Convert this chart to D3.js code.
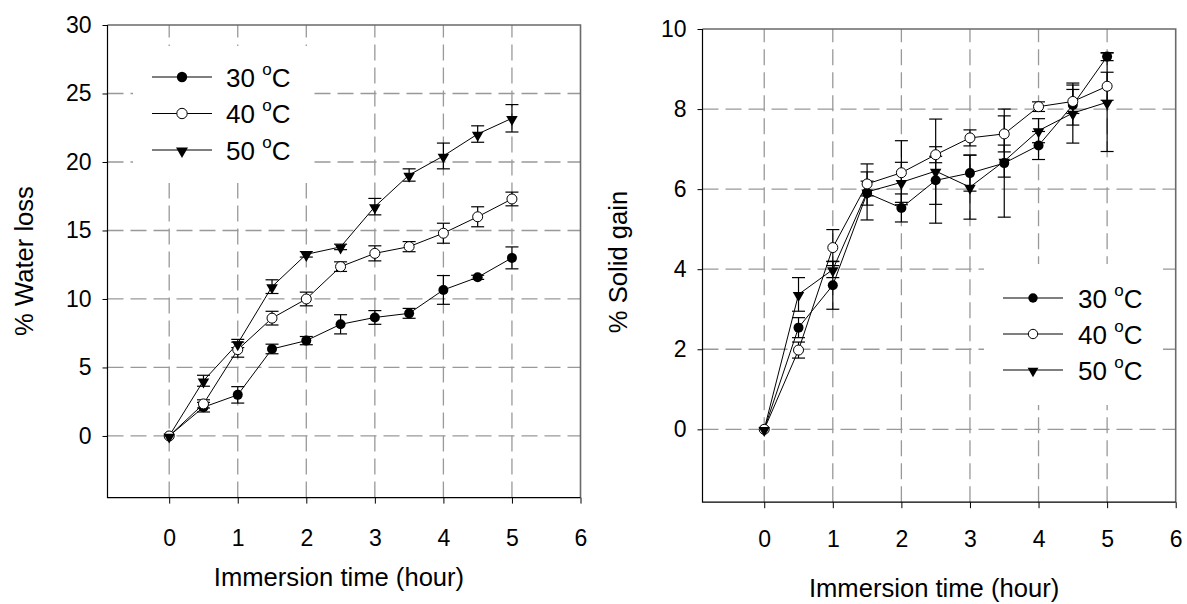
<!DOCTYPE html>
<html>
<head>
<meta charset="utf-8">
<script src="https://cdn.jsdelivr.net/npm/d3@7"></script>
<style>
  html, body { margin: 0; padding: 0; background: #fff; }
  svg { display: block; font-family: "Liberation Sans", Arial, sans-serif; }
</style>
</head>
<body>
<svg id="chart" width="1187" height="604"></svg>
<script>
// ---------- data ----------
const times = [0, 0.5, 1, 1.5, 2, 2.5, 3, 3.5, 4, 4.5, 5];
const seriesNames = ["30", "40", "50"];

// Left panel: % Water loss
const water30 = [0, 2.1, 3.0, 6.35, 6.96, 8.15, 8.65, 8.95, 10.66, 11.58, 13.0];
const water30Err = [0, 0.35, 0.6, 0.35, 0.3, 0.7, 0.5, 0.36, 1.05, 0.15, 0.8];
const water40 = [0, 2.34, 6.3, 8.6, 10.0, 12.36, 13.33, 13.82, 14.8, 16.0, 17.3];
const water40Err = [0, 0.3, 0.55, 0.5, 0.5, 0.35, 0.55, 0.37, 0.73, 0.73, 0.5];
const water50 = [0, 4.03, 6.75, 10.9, 13.26, 13.8, 16.74, 19.05, 20.44, 22.04, 23.19];
const water50Err = [0, 0.4, 0.3, 0.5, 0.2, 0.2, 0.6, 0.45, 0.94, 0.6, 1.0];

// Right panel: % Solid gain
const solid30 = [0, 2.54, 3.6, 5.9, 5.53, 6.22, 6.4, 6.65, 7.09, 8.1, 9.31];
const solid30Err = [0, 0.25, 0.6, 0.3, 0.35, 0.6, 0.45, 1.35, 0.35, 0.5, 0.1];
const solid40 = [0, 1.98, 4.54, 6.13, 6.41, 6.86, 7.28, 7.38, 8.06, 8.19, 8.57];
const solid40Err = [0, 0.2, 0.45, 0.3, 0.8, 0.2, 0.2, 0.45, 0.12, 0.3, 0.35];
const solid50 = [0, 3.37, 3.99, 5.93, 6.17, 6.45, 6.05, 6.7, 7.46, 7.9, 8.17];
const solid50Err = [0, 0.42, 0.2, 0.7, 0.5, 1.3, 0.8, 0.4, 0.3, 0.75, 1.23];

const xTicks = [0, 1, 2, 3, 4, 5, 6];
const waterTicks = [0, 5, 10, 15, 20, 25, 30];
const solidTicks = [0, 2, 4, 6, 8, 10];

// ---------- drawing ----------
const svg = d3.select("#chart");
const FONT_TICK = 23, FONT_TITLE = 25.6, FONT_LEG = 26;

function panel(cfg) {
  const g = svg.append("g");
  const x = d3.scaleLinear().domain([-0.9, 6]).range([cfg.left, cfg.right]);
  const y = d3.scaleLinear().domain(cfg.yDomain).range([cfg.bottom, cfg.top]);

  // grid
  const grid = g.append("g").attr("stroke", "#999").attr("stroke-width", 1.3)
    .attr("stroke-dasharray", "16,7").attr("fill", "none");
  grid.selectAll("line.h").data(cfg.yTicks.slice(0, -1)).join("line")
    .attr("x1", cfg.left).attr("x2", cfg.right)
    .attr("y1", d => y(d)).attr("y2", d => y(d));
  grid.selectAll("line.v").data(xTicks.slice(0, -1)).join("line")
    .attr("y1", cfg.bottom).attr("y2", cfg.top)
    .attr("x1", d => x(d)).attr("x2", d => x(d));

  // legend background box (hides grid)
  g.append("rect").attr("x", cfg.leg.bx0).attr("y", cfg.leg.by0)
    .attr("width", cfg.leg.bx1 - cfg.leg.bx0).attr("height", cfg.leg.by1 - cfg.leg.by0)
    .attr("fill", "#fff");

  // frame: top & right gray
  g.append("path").attr("d", `M${cfg.left},${cfg.top}H${cfg.right}V${cfg.bottom}`)
    .attr("fill", "none").attr("stroke", "#6a6a6a").attr("stroke-width", 1.6);

  // axes
  const fmt = d3.format("d");
  const ax = g.append("g").attr("transform", `translate(0,${cfg.bottom})`)
    .call(d3.axisBottom(x).tickValues(xTicks).tickFormat(fmt).tickSize(6).tickSizeOuter(0).tickPadding(cfg.xPad));
  const ay = g.append("g").attr("transform", `translate(${cfg.left},0)`)
    .call(d3.axisLeft(y).tickValues(cfg.yTicks).tickFormat(fmt).tickSize(5).tickSizeOuter(0).tickPadding(11));
  [ax, ay].forEach(a => {
    a.attr("font-size", null).attr("font-family", null);
    a.select(".domain").remove();
    a.selectAll("text").style("font-size", FONT_TICK + "px").attr("fill", "#000")
      .style("font-family", "'Liberation Sans', Arial, sans-serif");
    a.selectAll("line").attr("stroke", "#000");
  });
  g.append("path").attr("d", `M${cfg.left},${cfg.top}V${cfg.bottom}H${cfg.right}`)
    .attr("fill", "none").attr("stroke", "#000").attr("stroke-width", 1.2);

  // titles
  g.append("text").attr("x", (cfg.left + cfg.right) / 2 - 5).attr("y", cfg.xTitleY)
    .attr("text-anchor", "middle").attr("font-size", FONT_TITLE).text("Immersion time (hour)");
  g.append("text").attr("transform", `translate(${cfg.yTitleX},${cfg.yTitleC}) rotate(-90)`)
    .attr("text-anchor", "middle").attr("font-size", FONT_TITLE).text(cfg.yTitle);

  // series
  const line = d3.line().x((d, i) => x(times[i])).y(d => y(d));
  const data = cfg.series;
  data.forEach(s => {
    g.append("path").attr("d", line(s.v)).attr("fill", "none")
      .attr("stroke", "#000").attr("stroke-width", 1);
  });
  data.forEach(s => {
    const eg = g.append("g").attr("stroke", "#000").attr("stroke-width", 1.2);
    s.v.forEach((v, i) => {
      const e = s.e[i];
      if (!e) return;
      const cx = x(times[i]);
      eg.append("line").attr("x1", cx).attr("x2", cx).attr("y1", y(v - e)).attr("y2", y(v + e));
      [v - e, v + e].forEach(w => eg.append("line").attr("x1", cx - 6.5).attr("x2", cx + 6.5)
        .attr("y1", y(w)).attr("y2", y(w)));
    });
  });
  data.forEach((s, k) => {
    s.v.forEach((v, i) => marker(g, k, x(times[i]), y(v), 5));
  });

  // legend
  seriesNames.forEach((name, k) => {
    const ry = cfg.leg.rows[k];
    g.append("line").attr("x1", cfg.leg.lx0).attr("x2", cfg.leg.lx1)
      .attr("y1", ry).attr("y2", ry).attr("stroke", "#000").attr("stroke-width", 1.2);
    marker(g, k, (cfg.leg.lx0 + cfg.leg.lx1) / 2, ry, cfg.leg.r);
    const t = g.append("text").attr("x", cfg.leg.tx).attr("y", ry + 9.5)
      .attr("font-size", FONT_LEG);
    t.append("tspan").text(name + " ");
    t.append("tspan").attr("font-size", 17).attr("dy", -12).text("o");
    t.append("tspan").attr("dy", 12).text("C");
  });
}

function marker(g, k, cx, cy, r) {
  if (k === 0) {
    g.append("circle").attr("cx", cx).attr("cy", cy).attr("r", r).attr("fill", "#000");
  } else if (k === 1) {
    g.append("circle").attr("cx", cx).attr("cy", cy).attr("r", r)
      .attr("fill", "#fff").attr("stroke", "#000").attr("stroke-width", 1);
  } else {
    g.append("path").attr("d", d3.symbol(d3.symbolTriangle, r * r * 2.3)())
      .attr("transform", `translate(${cx},${cy + 1}) rotate(180)`).attr("fill", "#000");
  }
}

panel({
  left: 107.5, right: 580.5, top: 25, bottom: 497.6,
  yDomain: [-4.5, 30], yTicks: waterTicks, yTitle: "% Water loss",
  xTitleY: 586, yTitleX: 33, yTitleC: 261, xPad: 26,
  series: [{ v: water30, e: water30Err }, { v: water40, e: water40Err }, { v: water50, e: water50Err }],
  leg: { bx0: 133, bx1: 312, by0: 46, by1: 183, rows: [77, 113.5, 150], lx0: 152, lx1: 212, tx: 226, r: 5.2 }
});

panel({
  left: 702.5, right: 1175.7, top: 29, bottom: 502.2,
  yDomain: [-1.82, 10], yTicks: solidTicks, yTitle: "% Solid gain",
  xTitleY: 597, yTitleX: 627, yTitleC: 262, xPad: 22,
  series: [{ v: solid30, e: solid30Err }, { v: solid40, e: solid40Err }, { v: solid50, e: solid50Err }],
  leg: { bx0: 984, bx1: 1163, by0: 264, by1: 405, rows: [298, 334, 370], lx0: 1003, lx1: 1063, tx: 1078, r: 4.7 }
});
</script>
</body>
</html>
